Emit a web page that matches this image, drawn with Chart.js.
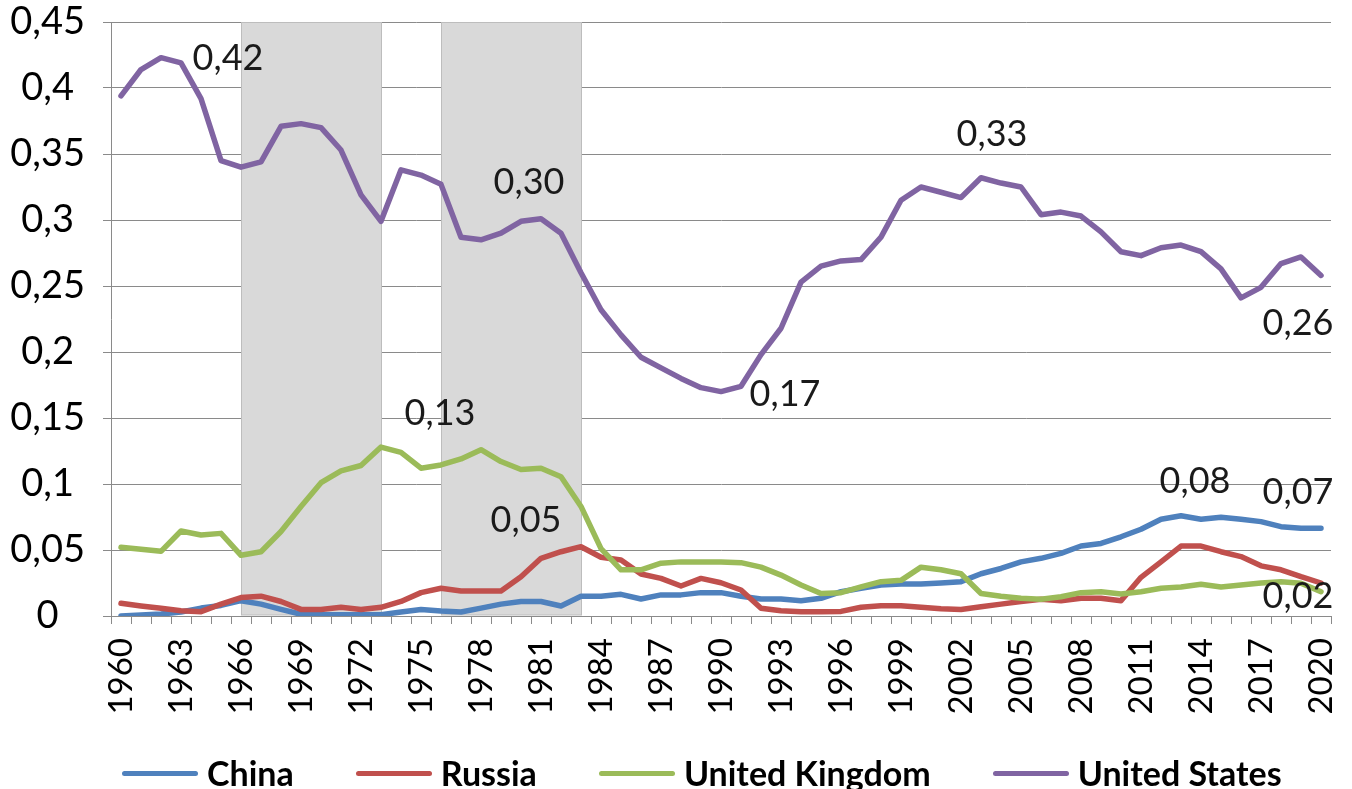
<!DOCTYPE html>
<html>
<head>
<meta charset="utf-8">
<script src="https://cdn.jsdelivr.net/npm/chart.js@4.4.0/dist/chart.umd.min.js"></script>
<style>
html, body { margin: 0; padding: 0; background: #fff; overflow: hidden; }
#wrap { position: relative; width: 1352px; height: 789px; }
#legend { position: absolute; left: 122px; top: 752px; display: flex; align-items: center;
  font: bold 34px Lato; line-height: 42px; color: #000; white-space: nowrap; }
.item { display: flex; align-items: center; margin-right: 62px; }
.swatch { width: 76px; height: 5px; border-radius: 3px; margin-right: 9px; }
</style>
</head>
<body>
<div id="wrap">
  <canvas id="lines" width="1352" height="789"></canvas>
  <div id="legend"></div>
</div>
<script>
// categories
const years = ['1960','1961','1962','1963','1964','1965','1966','1967','1968','1969',
  '1970','1971','1972','1973','1974','1975','1976','1977','1978','1979',
  '1980','1981','1982','1983','1984','1985','1986','1987','1988','1989',
  '1990','1991','1992','1993','1994','1995','1996','1997','1998','1999',
  '2000','2001','2002','2003','2004','2005','2006','2007','2008','2009',
  '2010','2011','2012','2013','2014','2015','2016','2017','2018','2019','2020'];

const seriesNames = ['China', 'Russia', 'United Kingdom', 'United States'];

const china = [0, 0.0008, 0.0015, 0.003, 0.006, 0.008, 0.0116, 0.009, 0.005, 0.0013,
  0.001, 0.001, 0.001, 0.001, 0.003, 0.005, 0.0038, 0.003, 0.006, 0.009,
  0.011, 0.011, 0.0076, 0.015, 0.015, 0.0164, 0.0129, 0.016, 0.016, 0.0177,
  0.0177, 0.015, 0.0129, 0.0129, 0.0116, 0.0134, 0.0184, 0.021, 0.0235, 0.0242,
  0.0242, 0.025, 0.026, 0.032, 0.036, 0.041, 0.0437, 0.0475, 0.053, 0.055,
  0.060, 0.0657, 0.0733, 0.076, 0.0733, 0.0748, 0.0733, 0.0715, 0.0677, 0.0664, 0.0664];

const russia = [0.0096, 0.0076, 0.0058, 0.004, 0.0033, 0.009, 0.014, 0.015, 0.011, 0.005,
  0.005, 0.0066, 0.005, 0.0066, 0.011, 0.0177, 0.021, 0.019, 0.019, 0.019,
  0.0298, 0.0437, 0.0487, 0.0525, 0.0445, 0.0424, 0.0318, 0.0285, 0.0227, 0.0285,
  0.0252, 0.0197, 0.0058, 0.004, 0.0033, 0.0033, 0.0035, 0.0066, 0.0078, 0.0078,
  0.0066, 0.0055, 0.005, 0.007, 0.009, 0.011, 0.0127, 0.0116, 0.0134, 0.0134,
  0.0116, 0.0293, 0.041, 0.053, 0.053, 0.0487, 0.045, 0.038, 0.035, 0.0298, 0.025];

const uk = [0.052, 0.0505, 0.049, 0.0644, 0.0614, 0.0626, 0.046, 0.0487, 0.064, 0.083,
  0.101, 0.110, 0.114, 0.128, 0.124, 0.112, 0.1144, 0.119, 0.126, 0.117,
  0.111, 0.112, 0.1055, 0.083, 0.051, 0.035, 0.035, 0.040, 0.041, 0.041,
  0.041, 0.0404, 0.037, 0.031, 0.0235, 0.017, 0.0177, 0.022, 0.026, 0.027,
  0.037, 0.035, 0.032, 0.017, 0.015, 0.0134, 0.0127, 0.0146, 0.0177, 0.0184,
  0.0167, 0.0184, 0.021, 0.022, 0.024, 0.022, 0.0235, 0.025, 0.026, 0.0248, 0.0184];

const us = [0.394, 0.414, 0.423, 0.419, 0.392, 0.345, 0.340, 0.344, 0.371, 0.373,
  0.370, 0.353, 0.319, 0.299, 0.338, 0.334, 0.327, 0.287, 0.285, 0.290,
  0.299, 0.301, 0.290, 0.260, 0.232, 0.213, 0.196, 0.188, 0.180, 0.173,
  0.170, 0.174, 0.198, 0.218, 0.253, 0.265, 0.269, 0.270, 0.287, 0.315,
  0.325, 0.321, 0.317, 0.332, 0.328, 0.325, 0.304, 0.306, 0.303, 0.291,
  0.276, 0.273, 0.279, 0.281, 0.276, 0.263, 0.241, 0.249, 0.267, 0.272, 0.258];

const yTickLabels = ['0', '0,05', '0,1', '0,15', '0,2', '0,25', '0,3', '0,35', '0,4', '0,45'];

// grey periods
const bandStart = ['1966', '1976'];
const bandEnd = ['1973', '1983'];

// which points get a value label
const labelSeries = [3, 3, 2, 1, 3, 3, 3, 0, 0, 2];
const labelYears = ['1963', '1981', '1973', '1983', '1990', '2003', '2020', '2013', '2020', '2020'];

const colors = ['#4f81bd', '#c0504d', '#9bbb59', '#8064a2'];
const allData = [china, russia, uk, us];
// label offsets from the point, px
const labelShift = [[47, -5], [-12, -36], [59, -34], [-55, -26], [64, 3], [11, -43], [-23, 48], [14, -34], [-23, -36], [-23, 5]];

const bandPlugin = {
  id: 'bands',
  beforeDatasetsDraw(chart) {
    const { ctx, chartArea, scales: { x } } = chart;
    ctx.save();
    bandStart.forEach((s, k) => {
      const x0 = x.getPixelForValue(years.indexOf(s));
      const x1 = x.getPixelForValue(years.indexOf(bandEnd[k]));
      ctx.fillStyle = '#d9d9d9';
      ctx.fillRect(x0, chartArea.top, x1 - x0, chartArea.bottom - chartArea.top - 1);
      ctx.strokeStyle = '#bdbdbd';
      ctx.lineWidth = 1;
      ctx.strokeRect(Math.round(x0) + 0.5, chartArea.top + 0.5, x1 - x0, chartArea.bottom - chartArea.top - 1.5);
    });
    ctx.restore();
  }
};

const labelPlugin = {
  id: 'valueLabels',
  afterDatasetsDraw(chart) {
    const { ctx, scales: { x, y } } = chart;
    ctx.save();
    ctx.font = '36px Lato';
    ctx.fillStyle = '#1a1a1a';
    ctx.textAlign = 'center';
    ctx.textBaseline = 'middle';
    labelSeries.forEach((s, k) => {
      const i = years.indexOf(labelYears[k]);
      const v = allData[s][i];
      const px = x.getPixelForValue(i) + labelShift[k][0];
      const py = y.getPixelForValue(v) + labelShift[k][1];
      ctx.fillText(v.toFixed(2).replace('.', ','), px, py);
    });
    ctx.restore();
  }
};

const ctxx = document.getElementById('lines');
const myChart = new Chart(ctxx, {
  type: 'line',
  data: {
    labels: years,
    datasets: seriesNames.map((name, k) => ({
      label: name,
      data: allData[k],
      borderColor: colors[k],
      backgroundColor: colors[k],
      borderWidth: 5.5,
      pointRadius: 0,
      tension: 0,
      borderJoinStyle: 'round',
      borderCapStyle: 'round',
      order: 4 - k
    }))
  },
  options: {
    responsive: false,
    animation: false,
    layout: { padding: { top: 22, right: 21, left: 0, bottom: 0 } },
    plugins: { legend: { display: false }, tooltip: { enabled: false } },
    scales: {
      x: {
        offset: true,
        grid: { offset: true, drawOnChartArea: false, drawTicks: true, tickLength: 8, color: '#8a8a8a' },
        border: { color: '#8a8a8a' },
        ticks: {
          autoSkip: false, minRotation: 90, maxRotation: 90, padding: 14,
          color: '#000', font: { family: 'Lato', size: 33 },
          callback: (v, i) => (i % 3 === 0 ? years[i] : '')
        },
        afterFit: s => { s.height = 789 - 616; s.paddingLeft = 0; s.paddingRight = 0; }
      },
      y: {
        min: 0, max: 0.45,
        ticks: {
          stepSize: 0.05, crossAlign: 'center', padding: 18,
          color: '#000', font: { family: 'Lato', size: 38 },
          callback: (v, i) => yTickLabels[i]
        },
        grid: { color: '#8a8a8a', tickLength: 8 },
        border: { color: '#8a8a8a' },
        afterFit: s => { s.width = 111; s.paddingTop = 0; s.paddingBottom = 0; }
      }
    }
  },
  plugins: [bandPlugin, labelPlugin]
});

// legend under the chart
const legendBox = document.getElementById('legend');
seriesNames.forEach((name, k) => {
  const item = document.createElement('div');
  item.className = 'item';
  const sw = document.createElement('span');
  sw.className = 'swatch';
  sw.style.background = colors[k];
  item.appendChild(sw);
  item.appendChild(document.createTextNode(name));
  legendBox.appendChild(item);
});
</script>
</body>
</html>
